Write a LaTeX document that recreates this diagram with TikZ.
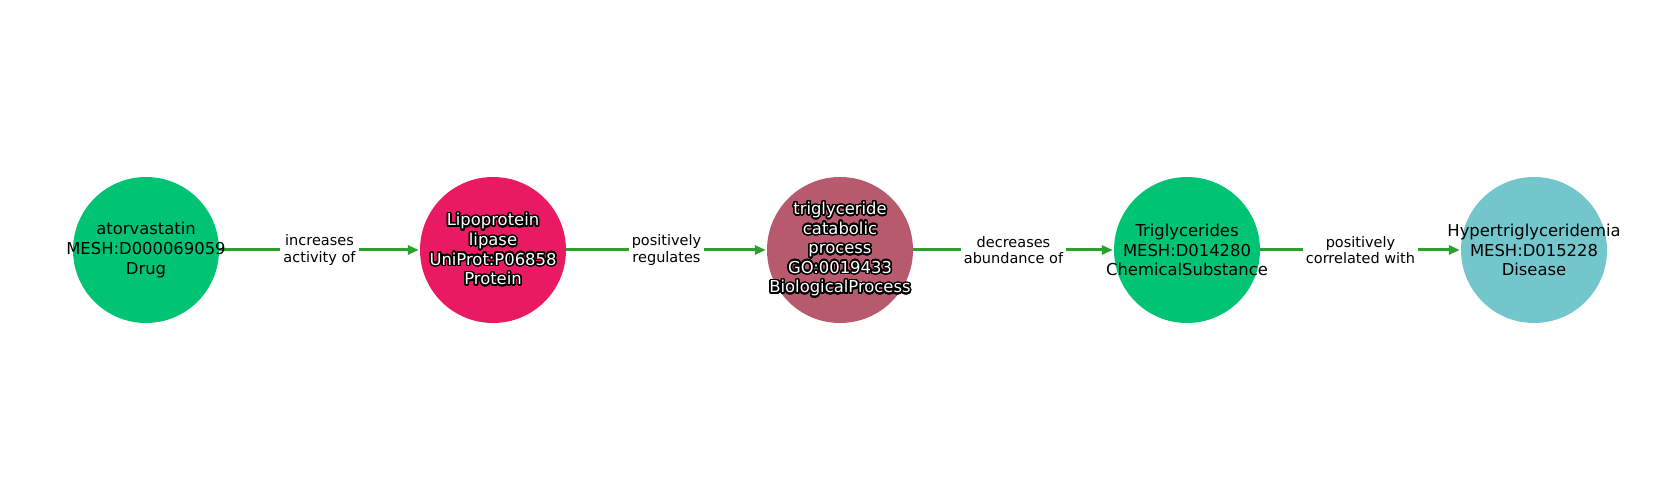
\documentclass[tikz,border=0pt]{standalone}
\usepackage{fontspec}
\setmainfont{DejaVu Sans}
\usepackage{contour}
\contourlength{1.5bp}
\contournumber{32}
\usetikzlibrary{arrows.meta}
\definecolor{cgreen}{HTML}{00C474}
\definecolor{cpink}{HTML}{E91A62}
\definecolor{cmauve}{HTML}{B85A6E}
\definecolor{cteal}{HTML}{72C6CC}
\definecolor{cedge}{HTML}{2CA02C}
\newcommand{\wt}[1]{\contour{black}{\textcolor{white}{#1}}}
\tikzset{
  ent/.style={circle, minimum size=146bp, inner sep=0pt},
  etext/.style={inner sep=0pt, align=center, font=\fontsize{16.4bp}{19.6bp}\selectfont},
  rel/.style={draw=cedge, line width=3bp, -{Triangle[length=11bp,width=9bp]}, shorten >=1bp},
  lbl/.style={fill=white, inner sep=3bp, align=center, font=\fontsize{14.5bp}{16.2bp}\selectfont}
}
\begin{document}
\begin{tikzpicture}[x=1bp,y=-1bp]
\useasboundingbox (0,0) rectangle (1680,500);
\node[ent, fill=cgreen] (a) at (146,250) {};
\node[ent, fill=cpink] (b) at (493,250) {};
\node[ent, fill=cmauve] (c) at (840,250) {};
\node[ent, fill=cgreen] (d) at (1187,250) {};
\node[ent, fill=cteal] (e) at (1534,250) {};
\draw[rel] (a) -- node[lbl] {increases\\activity of} (b);
\draw[rel] (b) -- node[lbl] {positively\\regulates} (c);
\draw[rel] (c) -- node[lbl] {decreases\\abundance of} (d);
\draw[rel] (d) -- node[lbl] {positively\\correlated with} (e);
\node[etext] (ta) at (a) {atorvastatin\\MESH:D000069059\\Drug};
\node[etext] (tb) at (b) {\wt{Lipoprotein}\\\wt{lipase}\\\wt{UniProt:P06858}\\\wt{Protein}};
\node[etext] (tc) at (c) {\wt{triglyceride}\\\wt{catabolic}\\\wt{process}\\\wt{GO:0019433}\\\wt{BiologicalProcess}};
\node[etext] (td) at (d) {Triglycerides\\MESH:D014280\\ChemicalSubstance};
\node[etext] (te) at (e) {Hypertriglyceridemia\\MESH:D015228\\Disease};
\end{tikzpicture}
\end{document}
